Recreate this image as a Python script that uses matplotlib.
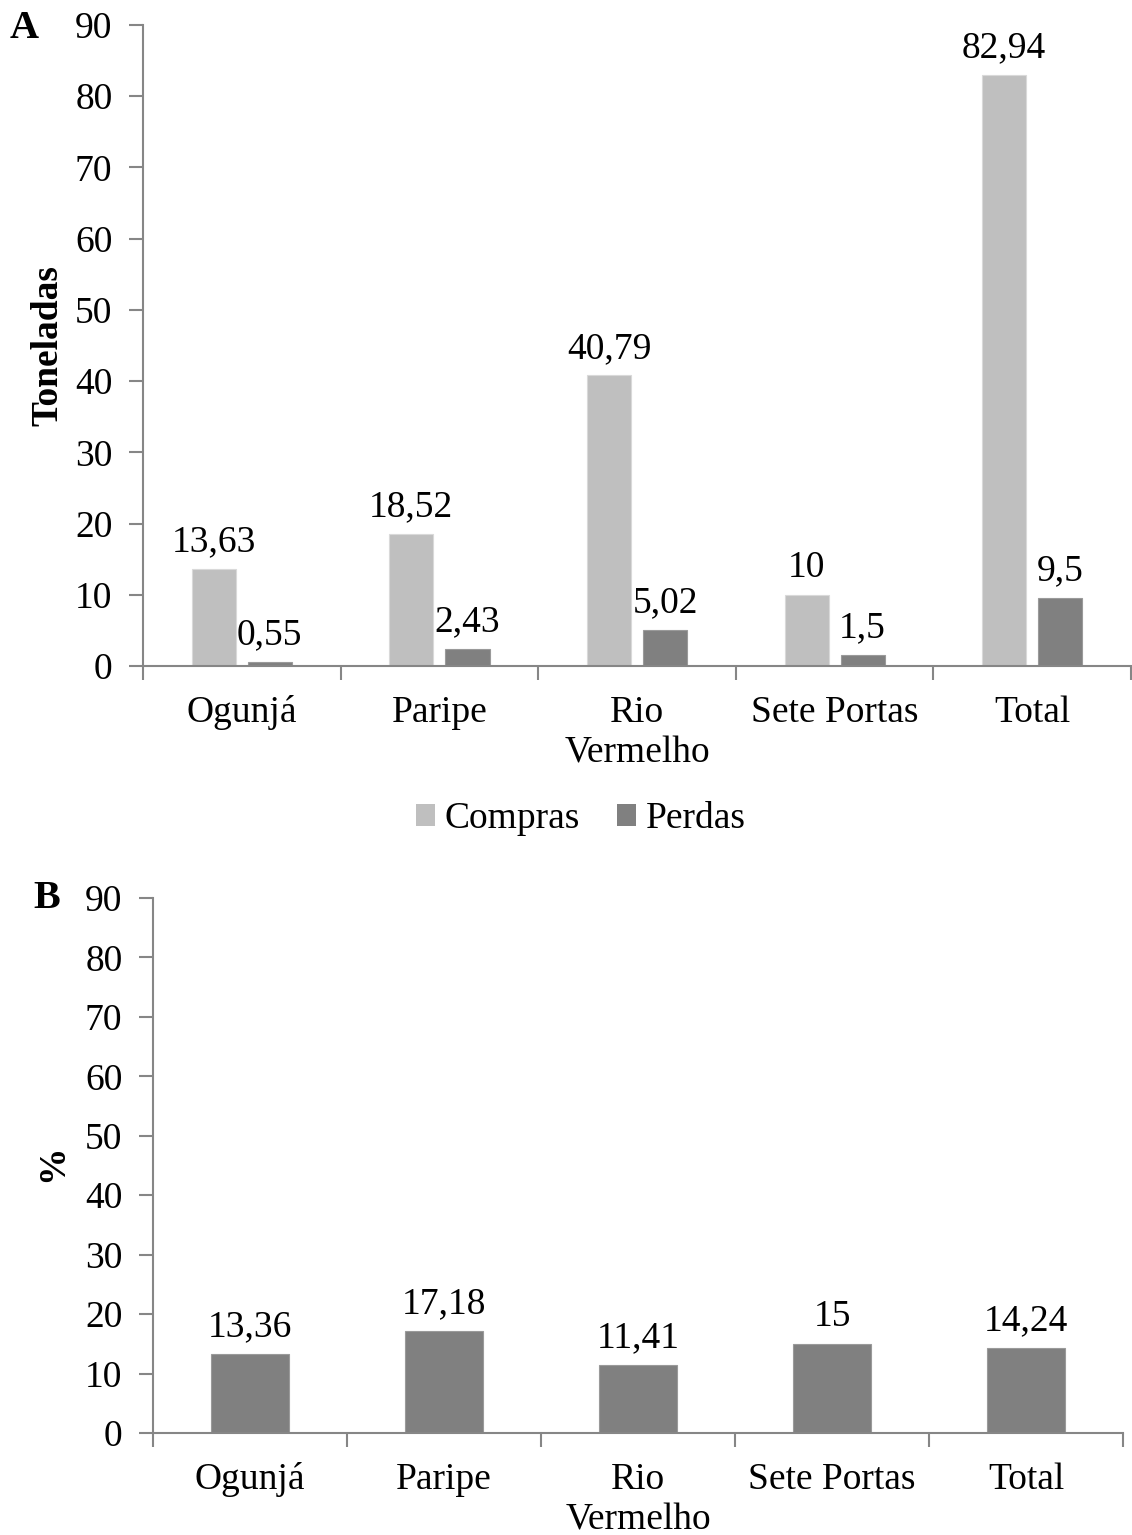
import matplotlib
matplotlib.use("Agg")
import matplotlib.pyplot as plt
from matplotlib.patches import Patch

# Dados
bairros = ["Ogunjá", "Paripe", "Rio\nVermelho", "Sete Portas", "Total"]
compras = [13.63, 18.52, 40.79, 10, 82.94]
perdas = [0.55, 2.43, 5.02, 1.5, 9.5]
perdas_pct = [13.36, 17.18, 11.41, 15, 14.24]
yticks = [0, 10, 20, 30, 40, 50, 60, 70, 80, 90]

cor_compras = "#bfbfbf"
cor_perdas = "#808080"
cor_eixo = "#868686"

plt.rcParams.update({
    "font.family": "Liberation Serif",
    "font.size": 27,
    "text.color": "black",
    "xtick.color": cor_eixo,
    "ytick.color": cor_eixo,
    "xtick.labelcolor": "black",
    "ytick.labelcolor": "black",
})


def fmt(v):
    s = ("%g" % v).replace(".", ",")
    return s


def estilo_eixo(ax, n):
    for lado in ["top", "right"]:
        ax.spines[lado].set_visible(False)
    for lado in ["left", "bottom"]:
        ax.spines[lado].set_color(cor_eixo)
        ax.spines[lado].set_linewidth(1.5)
    ax.set_xlim(0, n)
    ax.set_ylim(0, 90)
    ax.set_yticks(yticks)
    ax.tick_params(axis="y", length=10, width=1.5, pad=12)
    # marcas nos limites das categorias, rótulos no centro
    ax.set_xticks(range(n + 1))
    ax.set_xticklabels([])
    ax.tick_params(axis="x", which="major", length=10, width=1.5)
    ax.set_xticks([i + 0.5 for i in range(n)], minor=True)
    ax.set_xticklabels(bairros, minor=True, linespacing=1.25)
    ax.tick_params(axis="x", which="minor", length=0, pad=21)


def rotulos(ax, xs, vals):
    for x, v in zip(xs, vals):
        ax.annotate(fmt(v), (x, v), xytext=(0, 7), textcoords="offset points",
                    ha="center", va="bottom", fontsize=27)


fig = plt.figure(figsize=(11.32, 15.35), dpi=100)

# Painel A
ax1 = fig.add_axes([0.12633, 0.56612, 0.8728, 0.41759])
n = len(bairros)
larg = 0.223
desl = 0.142
xc = [i + 0.5 - desl for i in range(n)]
xp = [i + 0.5 + desl for i in range(n)]
ax1.bar(xc, compras, width=larg, color=cor_compras, edgecolor="#d9d9d9", linewidth=0.8)
ax1.bar(xp, perdas, width=larg, color=cor_perdas, edgecolor="#9a9a9a", linewidth=0.8)
estilo_eixo(ax1, n)
rotulos(ax1, xc, compras)
rotulos(ax1, xp, perdas)

handles = [Patch(facecolor=cor_compras, label="Compras"),
           Patch(facecolor=cor_perdas, label="Perdas")]
fig.legend(handles=handles, loc="center", bbox_to_anchor=(581 / 1132, 1 - 819 / 1535),
           ncol=2, frameon=False, fontsize=27, handlelength=0.5, handleheight=0.5,
           handletextpad=0.25, columnspacing=1.0)

# Painel B
ax2 = fig.add_axes([0.13516, 0.06645, 0.85689, 0.34853])
xb = [i + 0.5 for i in range(n)]
ax2.bar(xb, perdas_pct, width=0.40, color=cor_perdas, edgecolor="#9a9a9a", linewidth=0.8)
estilo_eixo(ax2, n)
rotulos(ax2, xb, perdas_pct)

# Títulos dos eixos e letras dos painéis
fig.text(48 / 1132, 1 - 346 / 1535, "Toneladas", rotation=90, ha="center", va="center",
         fontsize=27, fontweight="bold")
fig.text(53 / 1132, 1 - 1163 / 1535, "%", rotation=90, ha="center", va="center",
         fontsize=27, fontweight="bold")
fig.text(10 / 1132, 1 - 28 / 1535, "A", ha="left", va="center", fontsize=29, fontweight="bold")
fig.text(33 / 1132, 1 - 899 / 1535, "B", ha="left", va="center", fontsize=29, fontweight="bold")

fig.savefig("out.png", dpi=100)
